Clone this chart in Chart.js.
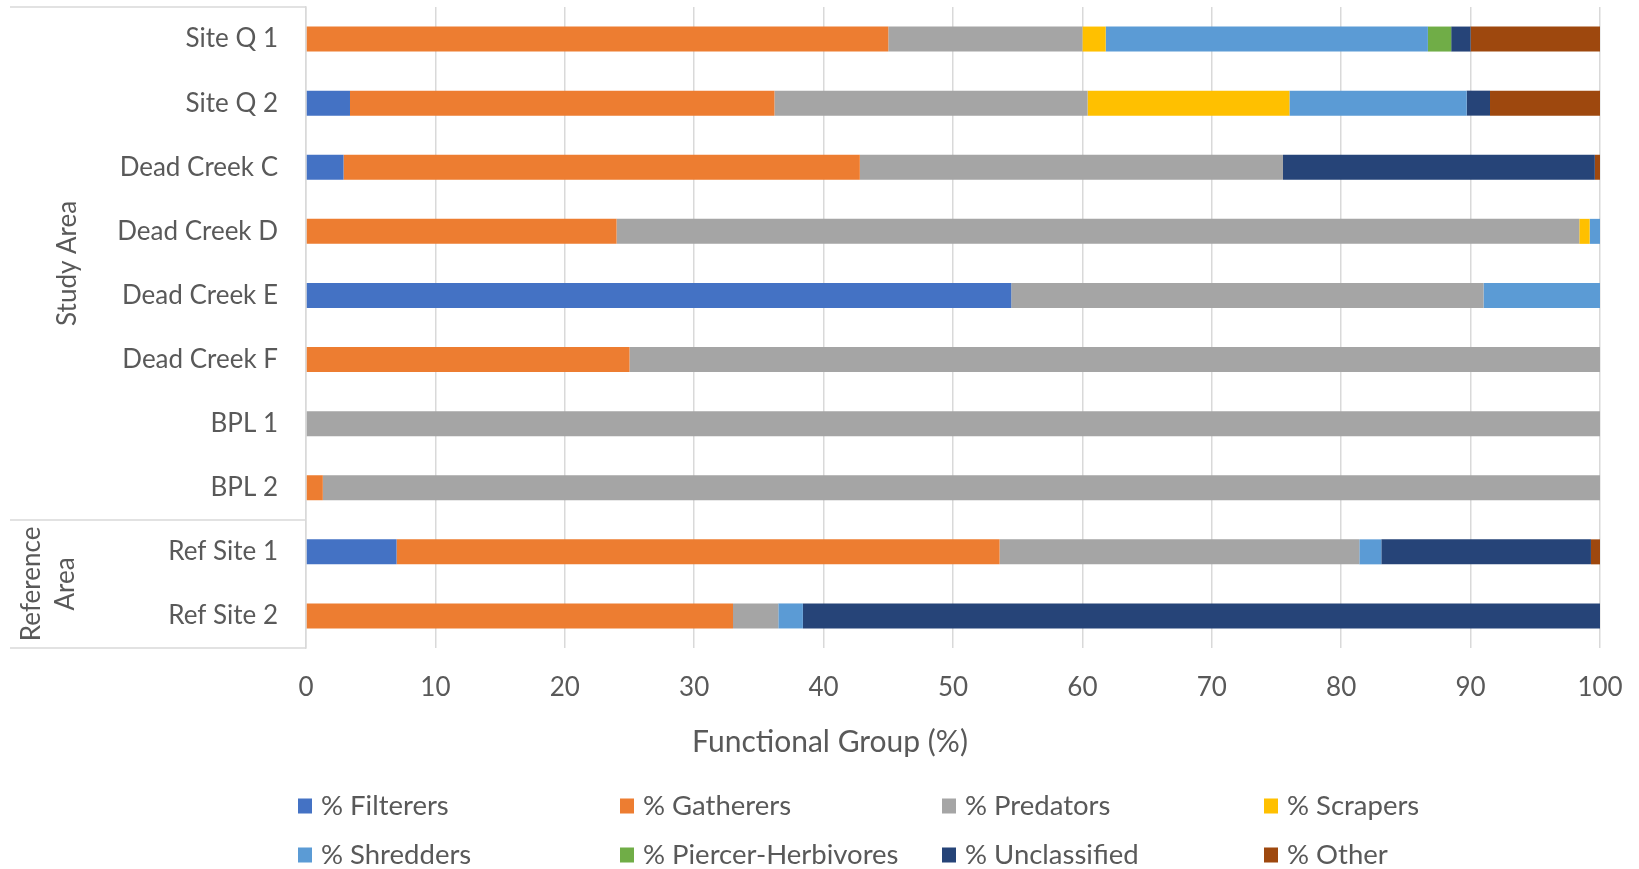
<!DOCTYPE html>
<html><head><meta charset="utf-8">
<script src="https://cdn.jsdelivr.net/npm/chart.js@4"></script>
<style>html,body{margin:0;padding:0;background:#fff}#wrap{width:1639px;height:869px;position:relative}</style>
</head><body><div id="wrap"><canvas id="c" width="1639" height="869"></canvas></div>
<script>
const categories = ['Site Q 1','Site Q 2','Dead Creek C','Dead Creek D','Dead Creek E','Dead Creek F','BPL 1','BPL 2','Ref Site 1','Ref Site 2'];
const filterers    = [0,   3.4, 2.9,  0,    54.5, 0,    0,   0,    7.0,  0];
const gatherers    = [45.0,32.8,39.9, 24.0, 0,    25.0, 0,   1.3,  46.6, 33.0];
const predators    = [15.0,24.2,32.7, 74.4, 36.5, 75.0, 100, 98.7, 27.8, 3.5];
const scrapers     = [1.8, 15.6,0,    0.8,  0,    0,    0,   0,    0,    0];
const shredders    = [24.9,13.7,0,    0.8,  9.0,  0,    0,   0,    1.7,  1.9];
const piercers     = [1.8, 0,   0,    0,    0,    0,    0,   0,    0,    0];
const unclassified = [1.5, 1.8, 24.1, 0,    0,    0,    0,   0,    16.2, 61.6];
const other        = [10.0,8.5, 0.4,  0,    0,    0,    0,   0,    0.7,  0];
const seriesNames  = ['% Filterers','% Gatherers','% Predators','% Scrapers','% Shredders','% Piercer-Herbivores','% Unclassified','% Other'];
const seriesColors = ['#4472C4','#ED7D31','#A5A5A5','#FFC000','#5B9BD5','#70AD47','#264478','#9E480E'];
const xTickValues  = [0,10,20,30,40,50,60,70,80,90,100];
const groupLabels  = [['Study Area'],['Reference','Area']];
const groupRanges  = [[0,7],[8,9]];
const axisTitle    = 'Functional Group (%)';

const FONT = 'Lato';
const FS = 26;
const TXT = '#595959';
const seriesData = [filterers,gatherers,predators,scrapers,shredders,piercers,unclassified,other];

const decor = {
  id:'decor',
  afterDraw(chart){
    const {ctx, chartArea:ca, scales:{y}} = chart;
    const band = y.getPixelForValue(1) - y.getPixelForValue(0);
    ctx.save();
    ctx.strokeStyle = '#d9d9d9';
    ctx.lineWidth = 1.5;
    const bounds = new Set();
    groupRanges.forEach(([a,b]) => {
      bounds.add(Math.round((y.getPixelForValue(a) - band/2)*2)/2);
      bounds.add(Math.round((y.getPixelForValue(b) + band/2)*2)/2);
    });
    bounds.forEach(yy => { ctx.beginPath(); ctx.moveTo(10, yy); ctx.lineTo(ca.left, yy); ctx.stroke(); });
    // group labels
    ctx.fillStyle = TXT;
    ctx.font = FS + 'px ' + FONT;
    ctx.textAlign = 'center';
    ctx.textBaseline = 'middle';
    const lx = [[68],[32,66]];
    groupRanges.forEach(([a,b], gi) => {
      const cy = (y.getPixelForValue(a) + y.getPixelForValue(b))/2;
      groupLabels[gi].forEach((t, li) => {
        ctx.save();
        ctx.translate(lx[gi][li], cy);
        ctx.rotate(-Math.PI/2);
        ctx.fillText(t, 0, 0);
        ctx.restore();
      });
    });
    // axis title
    ctx.font = '30px ' + FONT;
    ctx.fillText(axisTitle, 830, 742);
    // legend
    ctx.font = '27.5px ' + FONT;
    ctx.textAlign = 'left';
    chart.data.datasets.forEach((ds, i) => {
      const col = i % 4, row = Math.floor(i/4);
      const x = 298 + col*322, yc = 806 + row*49;
      ctx.fillStyle = ds.backgroundColor;
      ctx.fillRect(x, yc - 7.5, 14, 15);
      ctx.fillStyle = TXT;
      ctx.fillText(ds.label, x + 23, yc);
    });
    ctx.restore();
  }
};

new Chart(document.getElementById('c'), {
  type:'bar',
  data:{
    labels: categories,
    datasets: seriesNames.map((n,i) => ({label:n, data:seriesData[i], backgroundColor:seriesColors[i], borderWidth:0, barPercentage:0.39, categoryPercentage:1}))
  },
  options:{
    indexAxis:'y',
    responsive:false,
    animation:false,
    layout:{padding:{top:7,right:39,left:0,bottom:0}},
    plugins:{legend:{display:false}, tooltip:{enabled:false}},
    scales:{
      x:{
        stacked:true, min:0, max:100,
        afterBuildTicks(s){ s.ticks = xTickValues.map(v => ({value:v})); },
        afterFit(s){ s.height = 221; s.paddingLeft = 0; s.paddingRight = 0; },
        ticks:{font:{family:FONT,size:FS}, color:TXT, padding:24, maxRotation:0},
        grid:{color:'#d9d9d9', lineWidth:1.5, drawTicks:false},
        border:{display:false}
      },
      y:{
        stacked:true,
        afterFit(s){ s.width = 306; s.paddingTop = 0; s.paddingBottom = 0; },
        ticks:{font:{family:FONT,size:FS}, color:TXT, padding:28},
        grid:{display:false, drawTicks:false},
        border:{display:true, color:'#d9d9d9', width:1.5}
      }
    }
  },
  plugins:[decor]
});
</script></body></html>
